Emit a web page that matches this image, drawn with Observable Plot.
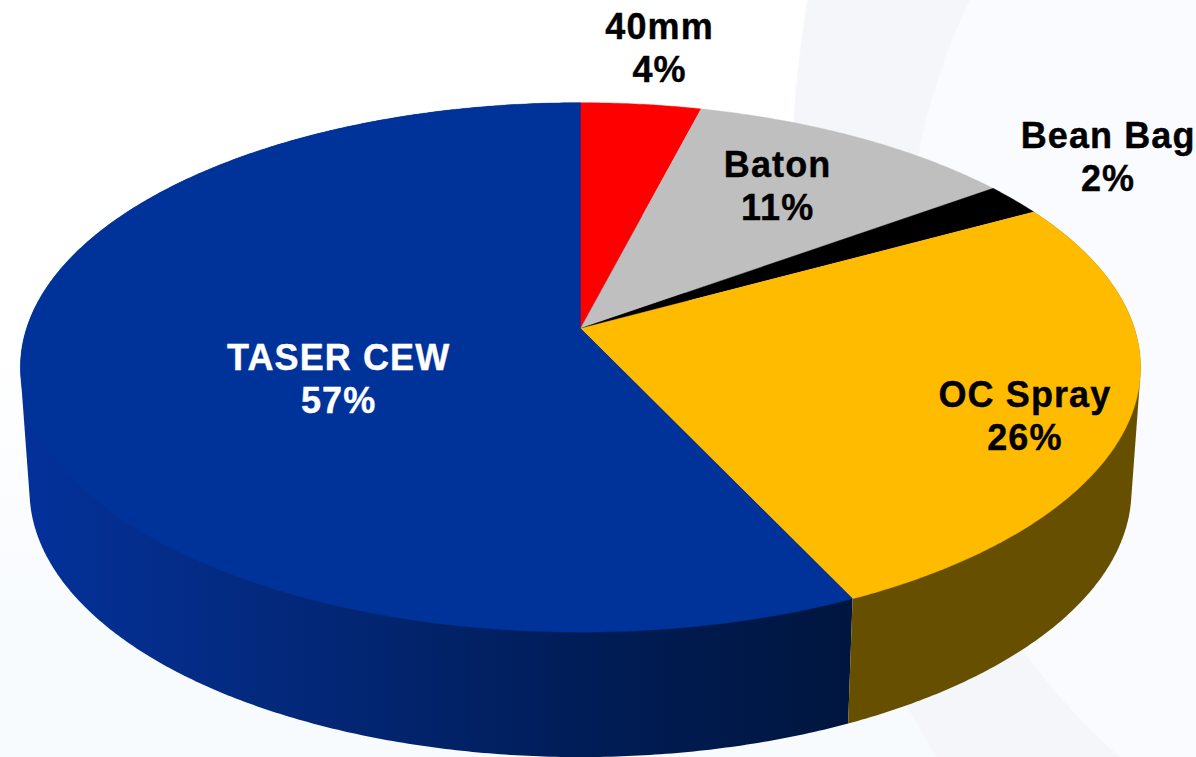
<!DOCTYPE html>
<html>
<head>
<meta charset="utf-8">
<script src="https://cdn.jsdelivr.net/npm/d3@7"></script>
<script src="https://cdn.jsdelivr.net/npm/@observablehq/plot@0.6"></script>
<style>
html,body{margin:0;padding:0}
body{width:1196px;height:757px;overflow:hidden;
background:
 radial-gradient(ellipse 590px 620px at 1495px 280px,#f9fbfe 99.6%,transparent 100%),
 radial-gradient(ellipse 514px 800px at 1304px 200px,#f4f6f9 99.6%,transparent 100%),
 linear-gradient(to bottom,#ffffff 0%,#ffffff 45%,#f8fbfe 80%);}
svg{display:block;background:transparent!important;font-family:"Liberation Sans",Arial,sans-serif}
svg text{letter-spacing:1.1px}
</style>
</head>
<body>
<div id="chart"></div>
<script>
const categories = ["40mm", "Baton", "Bean Bag", "OC Spray", "TASER CEW"];
const percents = [4, 11, 2, 26, 57];
const sliceColors = ["#ff0000", "#bfbfbf", "#000000", "#ffbb00", "#00339a"];
const labelColors = ["#000000", "#000000", "#000000", "#000000", "#ffffff"];

// perspective of the disc: a unit circle mapped to the picture
const tilt = 0.147;
const topRim = {cx: 580, cy: 328, rx: 554, ry: 259};
const bottomRim = {cx: 580, cy: 450.6, rx: 545, ry: 261};
const project = (rim, angle, r = 1) => {
  const u = r * Math.sin(angle), v = r * Math.cos(angle), w = 1 + tilt * v;
  return {x: rim.cx + rim.rx * u / w, y: rim.cy - rim.ry * v / w};
};
const arcs = d3.pie().sort(null).value((d, i) => percents[i])(categories);
const sweep = (a0, a1) => {
  const n = Math.max(2, Math.ceil((a1 - a0) / (Math.PI / 360)));
  return d3.range(n + 1).map(i => a0 + (a1 - a0) * i / n);
};

const tops = arcs.flatMap(a => [
  {name: a.data, ...project(topRim, 0, 0)},
  ...sweep(a.startAngle, a.endAngle).map(t => ({name: a.data, ...project(topRim, t)}))
]);
// a slice's outer wall: the convex outline of its top and bottom rims (the top is painted over it)
const wall = a => {
  const ts = sweep(a.startAngle, a.endAngle);
  const pts = [...ts.map(t => project(topRim, t)), ...ts.map(t => project(bottomRim, t))];
  return d3.polygonHull(pts.map(p => [p.x, p.y])).map(([x, y]) => ({x, y}));
};
const arcOf = name => arcs.find(a => a.data === name);

// label anchor: fraction of the radius along each slice's middle, then a nudge
const labelRadius = [1.324, 0.716, 1.3, 0.8, 0.45];
const labelNudge = [[2, 3], [-8, -2.5], [-24, -9.5], [7, 20], [5, 23.5]];

const blueSide = () => d3.create("svg:defs").html(`
  <linearGradient id="blueSide" gradientUnits="userSpaceOnUse" x1="30" x2="850" y1="0" y2="0">
    <stop offset="0" stop-color="#03319a"/>
    <stop offset="0.2" stop-color="#042c86"/>
    <stop offset="0.45" stop-color="#02246d"/>
    <stop offset="0.7" stop-color="#001c55"/>
    <stop offset="1" stop-color="#00163f"/>
  </linearGradient>`).node();

const chart = Plot.plot({
  width: 1196,
  height: 757,
  margin: 0,
  style: {background: "transparent"},
  x: {domain: [0, 1196], range: [0, 1196], axis: null},
  y: {domain: [0, 757], range: [0, 757], axis: null},
  color: {domain: categories, range: sliceColors},
  marks: [
    blueSide,
    Plot.line(wall(arcOf("TASER CEW")), {x: "x", y: "y", fill: "url(#blueSide)", stroke: "none"}),
    Plot.line(wall(arcOf("OC Spray")), {x: "x", y: "y", fill: "#665000", stroke: "none"}),
    Plot.line(tops, {x: "x", y: "y", z: "name", fill: "name", stroke: "name", strokeWidth: 0.4}),
    ...arcs.map((a, i) => {
      const p = project(topRim, (a.startAngle + a.endAngle) / 2, labelRadius[i]);
      return Plot.text([`${a.data}\n${percents[i]}%`], {
        x: () => p.x, y: () => p.y,
        text: d => d,
        dx: labelNudge[i][0], dy: labelNudge[i][1],
        fill: labelColors[i],
        stroke: labelColors[i], strokeWidth: 0.4,
        fontFamily: "Liberation Sans", fontWeight: "bold", fontSize: 36, lineHeight: 1.2
      });
    })
  ]
});
document.getElementById("chart").append(chart);
</script>
</body>
</html>
